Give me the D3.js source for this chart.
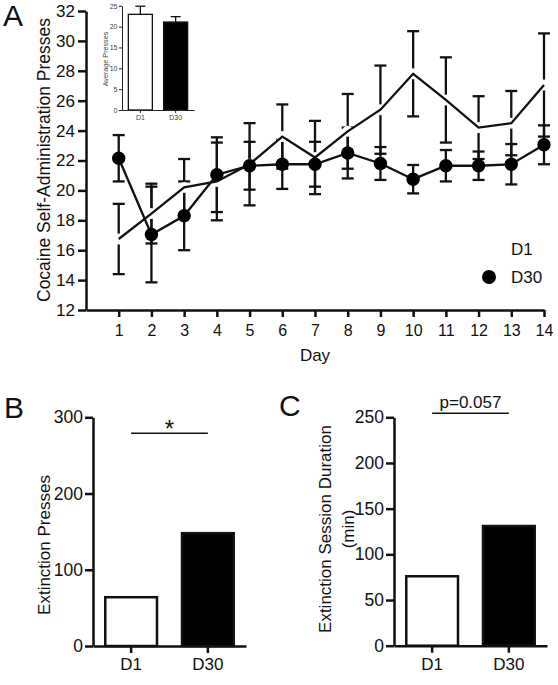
<!DOCTYPE html>
<html>
<head>
<meta charset="utf-8">
<script src="https://cdnjs.cloudflare.com/ajax/libs/d3/7.8.5/d3.min.js"></script>
<style>
  body { margin: 0; background: #fff; }
  svg text { font-family: "Liberation Sans", Arial, sans-serif; fill: #111; }
  .axis path, .axis line { stroke: #111; stroke-width: 2.5; }
  .inset path, .inset line { stroke: #222; stroke-width: 1; }
  .inset text { fill: #444; }
</style>
</head>
<body>
<div id="fig"></div>
<script>
// ---- data ----
const days = [1, 2, 3, 4, 5, 6, 7, 8, 9, 10, 11, 12, 13, 14]
const d1Mean = [16.75, 18.45, 20.2, 20.6, 21.75, 23.6, 22.2, 23.95, 25.4, 27.8, 26.05, 24.2, 24.5, 27.05]
const d1Sem = [2.35, 2.0, 1.9, 2.6, 2.75, 2.15, 2.45, 2.5, 2.95, 2.85, 2.85, 2.1, 2.15, 3.45]
const d30Mean = [22.15, 17.05, 18.3, 21.05, 21.65, 21.75, 21.75, 22.5, 21.8, 20.75, 21.65, 21.65, 21.75, 23.05]
const d30Sem = [1.55, 3.2, 2.3, 2.5, 1.6, 1.65, 1.5, 1.7, 1.1, 0.95, 1.05, 0.95, 1.35, 1.3]
const yTicksA = [12, 14, 16, 18, 20, 22, 24, 26, 28, 30, 32]

const groups = ["D1", "D30"]
const avgPresses = [22.95, 21.1]
const avgPressesSem = [1.95, 1.3]
const yTicksInset = [0, 5, 10, 15, 20, 25]

const extPresses = [64, 148]
const yTicksB = [0, 100, 200, 300]
const extDuration = [76, 131]
const yTicksC = [0, 50, 100, 150, 200, 250]

const svgWidth = 558
const svgHeight = 685

const svg = d3.select("#fig").append("svg")
  .attr("width", svgWidth)
  .attr("height", svgHeight)

function fixAxisText(g, size) {
  g.attr("font-size", size).attr("font-family", null)
}

// =============== panel A : line chart ===============
const xA = d3.scaleLinear().domain([0, 14]).range([86, 544])
const yA = d3.scaleLinear().domain([12, 32]).range([310, 11])

const gyA = svg.append("g").attr("class", "axis")
  .attr("transform", "translate(86,0)")
  .call(d3.axisLeft(yA).tickValues(yTicksA).tickSize(8).tickSizeOuter(0).tickPadding(3))
fixAxisText(gyA, 17)

const gxA = svg.append("g").attr("class", "axis")
  .attr("transform", "translate(0,310)")
  .call(d3.axisBottom(xA).tickValues(days).tickSize(7).tickSizeOuter(0).tickPadding(8))
fixAxisText(gxA, 16)

svg.append("text").attr("x", 315).attr("y", 361).attr("text-anchor", "middle")
  .attr("font-size", 17).text("Day")

svg.append("text").attr("transform", "translate(49.5,160) rotate(-90)")
  .attr("text-anchor", "middle").attr("font-size", 17.5)
  .text("Cocaine Self-Administration Presses")

svg.append("text").attr("x", 3).attr("y", 26).attr("font-size", 30).text("A")

const plotA = svg.append("g")
const d1 = days.map((d, i) => ({ day: d, mean: d1Mean[i], sem: d1Sem[i] }))
const d30 = days.map((d, i) => ({ day: d, mean: d30Mean[i], sem: d30Sem[i] }))

//error bars for both series first
function errorBars(g, data) {
  const eb = g.append("g").selectAll("g").data(data).enter().append("g")
    .attr("stroke", "#111").attr("stroke-width", 2.3)
  eb.append("line")
    .attr("x1", d => xA(d.day)).attr("x2", d => xA(d.day))
    .attr("y1", d => yA(d.mean - d.sem)).attr("y2", d => yA(d.mean + d.sem))
  eb.append("line")
    .attr("x1", d => xA(d.day) - 6).attr("x2", d => xA(d.day) + 6)
    .attr("y1", d => yA(d.mean + d.sem)).attr("y2", d => yA(d.mean + d.sem))
  eb.append("line")
    .attr("x1", d => xA(d.day) - 6).attr("x2", d => xA(d.day) + 6)
    .attr("y1", d => yA(d.mean - d.sem)).attr("y2", d => yA(d.mean - d.sem))
}
errorBars(plotA, d1)
errorBars(plotA, d30)

//D1 symbols are white (no border) so they just cut the bars
plotA.append("g").selectAll("circle").data(d1).enter().append("circle")
  .attr("cx", d => xA(d.day)).attr("cy", d => yA(d.mean)).attr("r", 5.5)
  .attr("fill", "#fff")

const line = d3.line().x(d => xA(d.day)).y(d => yA(d.mean))
plotA.append("path").datum(d1).attr("d", line)
  .attr("fill", "none").attr("stroke", "#111").attr("stroke-width", 2.3)
plotA.append("path").datum(d30).attr("d", line)
  .attr("fill", "none").attr("stroke", "#111").attr("stroke-width", 2.3)

plotA.append("g").selectAll("circle").data(d30).enter().append("circle")
  .attr("cx", d => xA(d.day)).attr("cy", d => yA(d.mean)).attr("r", 6.7)
  .attr("fill", "#000")

//legend
const legend = svg.append("g").attr("font-size", 17)
legend.append("circle").attr("cx", 489).attr("cy", 249).attr("r", 7).attr("fill", "#fff")
legend.append("text").attr("x", 511).attr("y", 255).text(groups[0])
legend.append("circle").attr("cx", 489).attr("cy", 277).attr("r", 7).attr("fill", "#000")
legend.append("text").attr("x", 511).attr("y", 283).text(groups[1])

// ---- inset : average presses ----
const xI = d3.scaleBand().domain(groups).range([122, 194]).paddingInner(0.32).paddingOuter(0.18)
const yI = d3.scaleLinear().domain([0, 25]).range([110, 5.8])
const inset = svg.append("g")

inset.selectAll("line.err").data(groups).enter().append("line")
  .attr("x1", d => xI(d) + xI.bandwidth() / 2).attr("x2", d => xI(d) + xI.bandwidth() / 2)
  .attr("y1", (d, i) => yI(avgPresses[i])).attr("y2", (d, i) => yI(avgPresses[i] + avgPressesSem[i]))
  .attr("stroke", "#111").attr("stroke-width", 1.3)
inset.selectAll("line.cap").data(groups).enter().append("line")
  .attr("x1", d => xI(d) + xI.bandwidth() / 2 - 5).attr("x2", d => xI(d) + xI.bandwidth() / 2 + 5)
  .attr("y1", (d, i) => yI(avgPresses[i] + avgPressesSem[i]))
  .attr("y2", (d, i) => yI(avgPresses[i] + avgPressesSem[i]))
  .attr("stroke", "#111").attr("stroke-width", 1.3)
inset.selectAll("rect").data(groups).enter().append("rect")
  .attr("x", d => xI(d)).attr("width", xI.bandwidth())
  .attr("y", (d, i) => yI(avgPresses[i])).attr("height", (d, i) => yI(0) - yI(avgPresses[i]))
  .attr("fill", (d, i) => i == 0 ? "#fff" : "#000").attr("stroke", "#111").attr("stroke-width", 1.3)

const gyI = inset.append("g").attr("class", "inset").attr("transform", "translate(122,0)")
  .call(d3.axisLeft(yI).tickValues(yTicksInset).tickSize(3).tickSizeOuter(0).tickPadding(1.5))
fixAxisText(gyI, 7)
const gxI = inset.append("g").attr("class", "inset").attr("transform", "translate(0,110)")
  .call(d3.axisBottom(xI).tickSize(3).tickSizeOuter(0).tickPadding(2))
fixAxisText(gxI, 7)
inset.append("text").attr("transform", "translate(107.5,59) rotate(-90)")
  .attr("text-anchor", "middle").attr("font-size", 7.2).style("fill", "#444")
  .text("Average Presses")

// =============== panels B and C : bar charts ===============
function barPanel(opts) {
  const x = d3.scaleBand().domain(groups).range([opts.left, opts.right])
    .paddingInner(0.326).paddingOuter(0.16)
  const y = d3.scaleLinear().domain([0, opts.max]).range([opts.bottom, opts.top])
  const g = svg.append("g")

  g.selectAll("rect").data(opts.values).enter().append("rect")
    .attr("x", (d, i) => x(groups[i])).attr("width", x.bandwidth())
    .attr("y", d => y(d)).attr("height", d => y(0) - y(d))
    .attr("fill", (d, i) => i == 0 ? "#fff" : "#000")
    .attr("stroke", "#111").attr("stroke-width", 2.5)

  const gy = g.append("g").attr("class", "axis").attr("transform", "translate(" + opts.left + ",0)")
    .call(d3.axisLeft(y).tickValues(opts.ticks).tickSize(8).tickSizeOuter(0).tickPadding(2))
  fixAxisText(gy, 17.5)
  const gx = g.append("g").attr("class", "axis").attr("transform", "translate(0," + opts.bottom + ")")
    .call(d3.axisBottom(x).tickSize(7).tickSizeOuter(0).tickPadding(5))
  fixAxisText(gx, 17)

  //significance bar
  const c1 = x(groups[0]) + x.bandwidth() / 2
  const c2 = x(groups[1]) + x.bandwidth() / 2
  g.append("line").attr("x1", c1).attr("x2", c2)
    .attr("y1", y(opts.sigAt)).attr("y2", y(opts.sigAt))
    .attr("stroke", "#111").attr("stroke-width", 1.6)
  g.append("text").attr("x", (c1 + c2) / 2).attr("y", y(opts.sigAt) + opts.sigDy)
    .attr("text-anchor", "middle").attr("font-size", opts.sigSize).text(opts.sigText)

  //y title (one or more lines)
  opts.title.forEach((t, i) => {
    g.append("text")
      .attr("transform", "translate(" + (opts.titleX + i * 22.5) + "," + opts.titleY + ") rotate(-90)")
      .attr("text-anchor", "middle").attr("font-size", 17).text(t)
  })
  svg.append("text").attr("x", opts.letterX).attr("y", opts.letterY)
    .attr("font-size", 30).text(opts.letter)
}

barPanel({
  values: extPresses, max: 300, ticks: yTicksB,
  left: 93, right: 246, top: 417.3, bottom: 646,
  sigAt: 279, sigText: "*", sigSize: 24, sigDy: 3.5,
  title: ["Extinction Presses"], titleX: 49.5, titleY: 545,
  letter: "B", letterX: 4, letterY: 418
})

barPanel({
  values: extDuration, max: 250, ticks: yTicksC,
  left: 394, right: 547, top: 417.3, bottom: 645.7,
  sigAt: 254.4, sigText: "p=0.057", sigSize: 17, sigDy: -5.5,
  title: ["Extinction Session Duration", "(min)"], titleX: 331, titleY: 529,
  letter: "C", letterX: 279, letterY: 416
})
</script>
</body>
</html>
